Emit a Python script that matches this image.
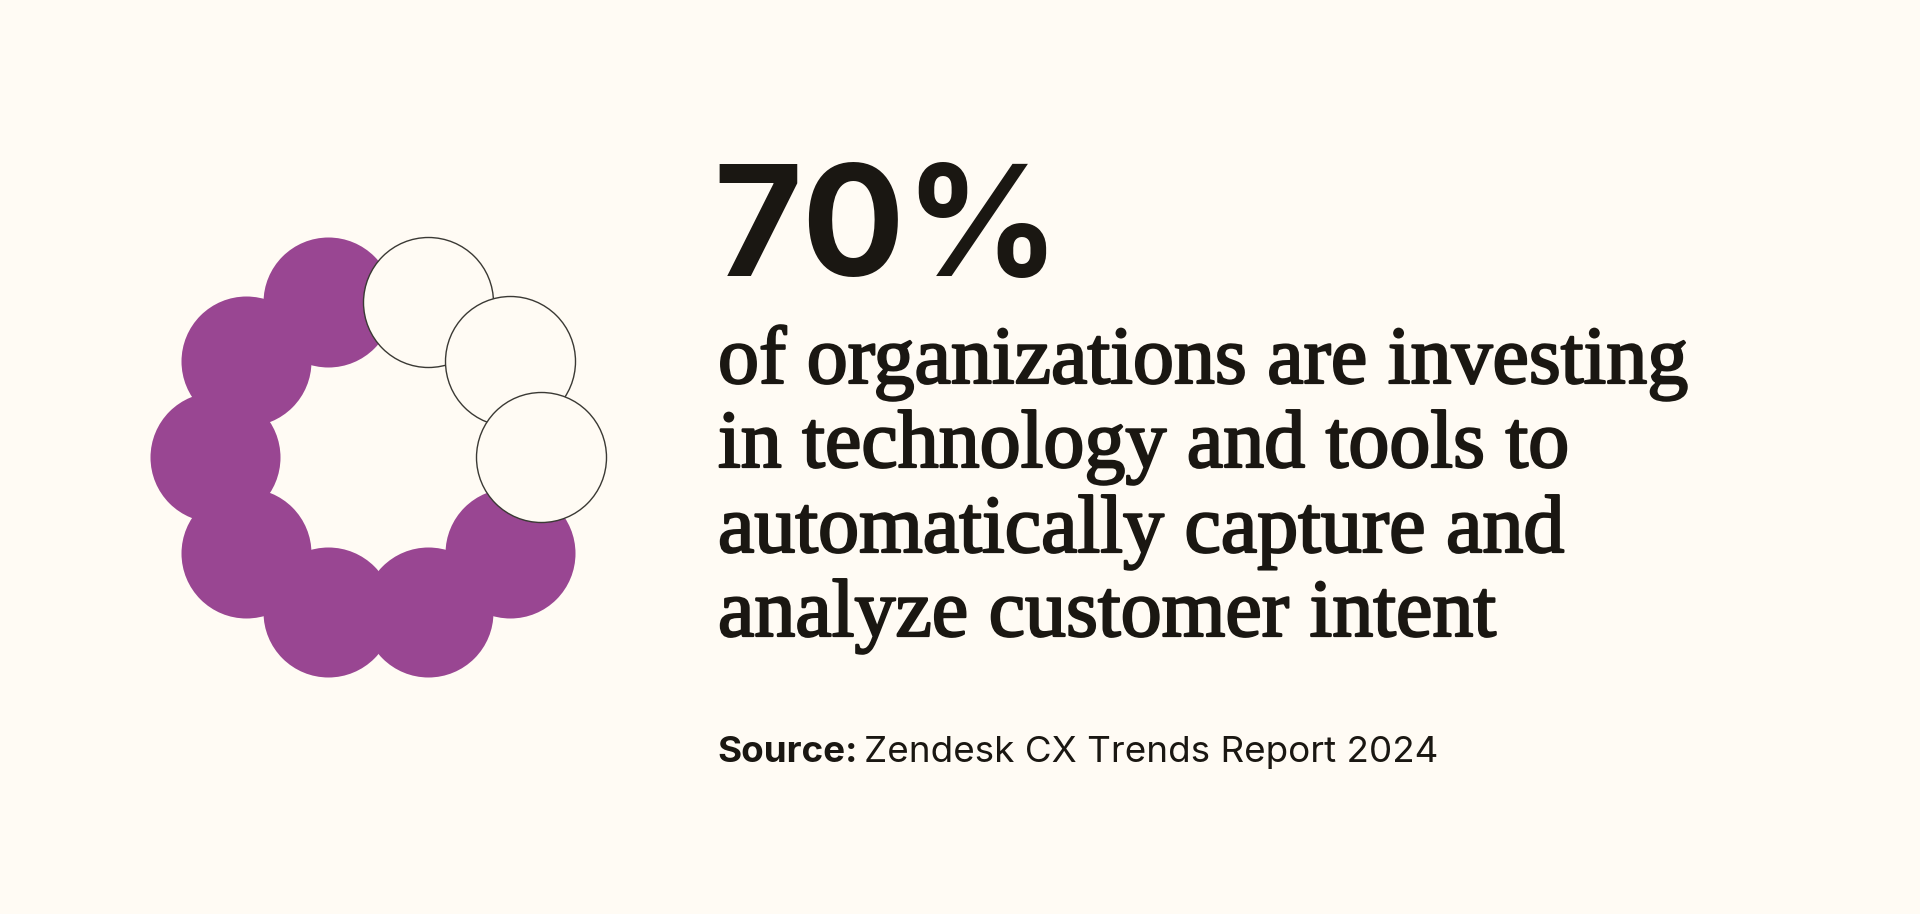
import numpy as np, pandas as pd, seaborn as sns
import matplotlib
matplotlib.use("Agg")
import matplotlib.pyplot as plt
import matplotlib.patheffects as pe

headline = "70%"
body_lines = ["of organizations are investing", "in technology and tools to",
              "automatically capture and", "analyze customer intent"]
source_label = "Source:"
source_text = "Zendesk CX Trends Report 2024"
share_percent = 70
n_dots = 10

BG = "#FFFBF4"; PURPLE = "#994692"; INK = "#1A1712"
W, H = 1920, 914
sns.set_theme(style="white")
fig = plt.figure(figsize=(W/100, H/100), dpi=100, facecolor=BG)
# axes whose unit circle is 163 px radius around (378,457)
R = 163; cx, cy = 378, 457
span = 1.6
ax = fig.add_axes([(cx-R*span)/W, 1-(cy+R*span)/H, 2*R*span/W, 2*R*span/H])
ax.set_xlim(-span, span); ax.set_ylim(-span, span); ax.axis("off")

idx = np.arange(n_dots)
ang = np.deg2rad(idx*360/n_dots)
state = np.where(idx < n_dots*(100-share_percent)/100, "open", "filled")
df = pd.DataFrame(dict(x=np.cos(ang), y=np.sin(ang), state=state, order=idx))
d_pt = 130*0.72
sns.scatterplot(data=df[df.state=="filled"], x="x", y="y", s=d_pt**2, color=PURPLE,
                linewidth=0, ax=ax, legend=False, clip_on=False, zorder=2)
for i, row in enumerate(df[df.state=="open"].sort_values("order", ascending=False).itertuples()):
    sns.scatterplot(x=[row.x], y=[row.y], s=d_pt**2, color=BG, edgecolor="#3A3934",
                    linewidth=1.0, ax=ax, legend=False, clip_on=False, zorder=3+i)

def T(x, y, s, **k):
    return fig.text(x/W, 1-y/H, s, va="baseline", ha="left", **k)

T(713, 276, headline, family="Inter", weight="bold", fontsize=110, color=INK)
baselines = [383, 467, 552, 636]
for y, s in zip(baselines, body_lines):
    t = T(718, y, s, family="Liberation Serif", fontsize=59, color=INK)
    t.set_path_effects([pe.withStroke(linewidth=1.6, foreground=INK)])
T(717, 762, source_label, family="Inter", weight="bold", fontsize=26.5, color=INK)
T(864, 762, source_text, family="Inter", fontsize=26.5, color=INK)
fig.savefig("out.png", dpi=100, facecolor=BG)
